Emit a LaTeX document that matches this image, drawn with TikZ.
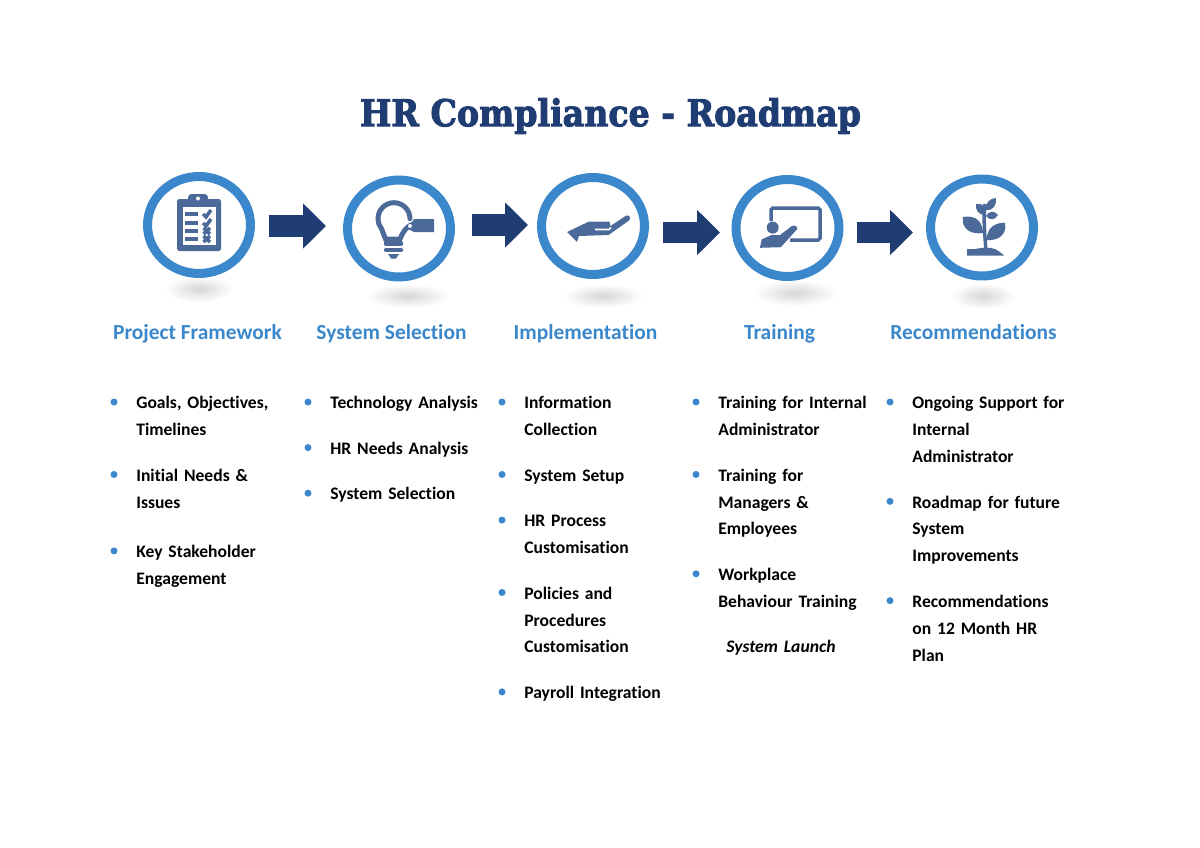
\documentclass[tikz,border=0pt]{standalone}
\usepackage{fontspec}
\setmainfont[Ligatures=NoCommon,Contextuals=NoAlternate]{Carlito}
\newfontfamily\titlefont[FakeStretch=0.9,FakeBold=2.6]{DejaVu Serif}
\usetikzlibrary{arrows.meta,positioning,shapes.geometric}
\definecolor{hrnavy}{HTML}{1F3D73}
\definecolor{hrblue}{HTML}{3A87CB}
\definecolor{hricon}{HTML}{4C6A99}

\begin{document}
\begin{tikzpicture}[
    x=0.02cm, y=-0.02cm,
    every node/.style={inner sep=0pt},
    ring/.style={draw=hrblue, fill=white, ellipse, line width=0.18cm, minimum width=2.06cm, minimum height=1.94cm},
    bigarrow/.style={line width=0.44cm, draw=hrnavy, -{Triangle[length=0.46cm, width=0.88cm]}},
    heading/.style={anchor=base, text=hrblue, font=\fontsize{12.2}{15}\selectfont\bfseries},
    listitem/.style={text width=3.4cm, align=left, anchor=north west, font=\fontsize{10}{15.3}\selectfont\bfseries,
      execute at begin node=\strut, execute at end node=\strut},
    nextitem/.style={listitem, below=0.36cm of #1.south west, anchor=north west},
    hrdot/.style={circle, fill=hrblue, minimum size=0.14cm}
  ]
    \useasboundingbox (0,0) rectangle (1200,848);

    \node[text=hrnavy, font=\fontsize{21}{25}\titlefont\bfseries] (title) at (610.5,116) {HR Compliance - Roadmap};

    % soft shadows under the rings
    \foreach \x/\y/\rx/\ry in {199/289/34/13, 408/296/42/12, 603/296/40/12, 795/293/42/13, 983/296/32/13}
      \shade[inner color=black!16, outer color=white] (\x,\y) ellipse [x radius=\rx, y radius=\ry];

    \node[ring] (frame) at (199,225) {};
    \node[ring] (select) at (399,228.5) {};
    \node[ring] (impl) at (593,226) {};
    \node[ring] (train) at (787.5,228) {};
    \node[ring] (recom) at (982,227.5) {};

    \coordinate (a1s) at (269,226);
    \coordinate (a1e) at (326,226);
    \coordinate (a2s) at (472,225);
    \coordinate (a2e) at (528,225);
    \coordinate (a3s) at (663,232.5);
    \coordinate (a3e) at (720,232.5);
    \coordinate (a4s) at (857,232.5);
    \coordinate (a4e) at (913,232.5);
    \draw[bigarrow] (a1s) -- (a1e);
    \draw[bigarrow] (a2s) -- (a2e);
    \draw[bigarrow] (a3s) -- (a3e);
    \draw[bigarrow] (a4s) -- (a4e);

    % clipboard
    \fill[hricon, rounded corners=1pt] (177,199) rectangle (221,251);
    \fill[hricon, rounded corners=2pt] (188,194) rectangle (208,208);
    \fill[white] (183,207) rectangle (216,245);
    \fill[white] (198,198.5) circle (2);
    \foreach \y in {214,223,231,239}
      \draw[hricon, line width=0.07cm] (185,\y) -- (198,\y);
    \foreach \y in {214,223}
      \draw[hricon, line width=0.07cm] (203,\y) -- (206,\y+3) -- (211,\y-4);
    \foreach \y in {231,239}
      \draw[hricon, line width=0.07cm] (203.5,\y-3) -- (210,\y+3) (203.5,\y+3) -- (210,\y-3);

    % bulb
    \draw[hricon, line width=0.1cm, line cap=round] (410,218.7) arc[start angle=0, end angle=-218, radius=16]
      -- (385.5,239) -- (400,239) .. controls (403,232) and (406,226) .. (414,224);
    \fill[hricon] (414,219) -- (434,219) -- (434,232) -- (414,232) -- (408,229) -- cycle;
    \fill[white] (410,226) circle (2);
    \draw[hricon, line width=0.09cm, line cap=round] (386,243.5) -- (401,243.5) (386,250) -- (401,250);
    \fill[hricon] (388,254) -- (399,254) -- (396,258.5) -- (391,258.5) -- cycle;

    % hand
    \fill[hricon] (567,232) -- (589,221.5) -- (609.5,221.5) -- (610.5,226) -- (626,215.7)
      .. controls (630,214) and (631,219) .. (629,220.5) -- (608.5,235) -- (579,236) -- (577,241.8) -- cycle;
    \draw[white, line width=0.035cm] (595,229.5) -- (609,229.5) -- (611,227.5);

    % teacher at a board
    \draw[hricon, line width=0.07cm, rounded corners=1pt] (771,221) -- (771,208) -- (820,208) -- (820,240) -- (790,240);
    \fill[hricon] (772.7,227.6) circle (6);
    \fill[hricon] (760,247.8) -- (761.6,239.4) -- (771.7,235) -- (780,235) -- (792,225.9)
      .. controls (795,224.5) and (798,227) .. (797,229.3) -- (780.8,247.2) -- cycle;

    % plant
    \draw[hricon, line width=0.07cm] (986,252) .. controls (985,235) and (983,220) .. (985,204);
    \fill[hricon] (967,249) .. controls (977,250) and (980,247) .. (986,248)
      .. controls (992,247) and (997,249) .. (1004,255.5) -- (967,255.5) -- cycle;
    \fill[hricon] (963,217) .. controls (970,216) and (982,216) .. (983,233)
      .. controls (970,235) and (961,228) .. (963,217) -- cycle;
    \fill[hricon] (1005,223) .. controls (997,222) and (986,227) .. (987,240)
      .. controls (999,241) and (1007,234) .. (1005,223) -- cycle;
    \fill[hricon] (976,204) .. controls (982,202) and (986,207) .. (984.5,215)
      .. controls (979,215) and (975,210) .. (976,204) -- cycle;
    \fill[hricon] (996,198) .. controls (990,198) and (985,203) .. (986,210)
      .. controls (993,211) and (997,205) .. (996,198) -- cycle;
    \fill[hricon] (998,215) .. controls (994,210) and (989,211) .. (986,216)
      .. controls (990,221) and (995,220) .. (998,215) -- cycle;

    \node[heading] (h1) at (197.5,339) {Project Framework};
    \node[heading] (h2) at (391.5,339) {System Selection};
    \node[heading] (h3) at (585.5,339) {Implementation};
    \node[heading] (h4) at (779.5,339) {Training};
    \node[heading] (h5) at (973.5,339) {Recommendations};

    \node[listitem] (goals) at (136,389.5) {Goals, Objectives,\\Timelines};
    \node[nextitem=goals] (needs) {Initial Needs \&\\Issues};
    \node[nextitem=needs, yshift=-0.08cm] (stake) {Key Stakeholder\\Engagement};

    \node[listitem] (tech) at (330,389.5) {Technology Analysis};
    \node[nextitem=tech] (hrneeds) {HR Needs Analysis};
    \node[nextitem=hrneeds] (syssel) {System Selection};

    \node[listitem] (info) at (524,389.5) {Information\\Collection};
    \node[nextitem=info] (setup) {System Setup};
    \node[nextitem=setup] (process) {HR Process\\Customisation};
    \node[nextitem=process] (policy) {Policies and\\Procedures\\Customisation};
    \node[nextitem=policy] (payroll) {Payroll Integration};

    \node[listitem] (admin) at (718,389.5) {Training for Internal\\Administrator};
    \node[nextitem=admin] (mgr) {Training for\\Managers \&\\Employees};
    \node[nextitem=mgr] (behav) {Workplace\\Behaviour Training};
    \node[listitem, font=\fontsize{10}{15.3}\selectfont\bfseries\itshape] (launch) at (726,633) {System Launch};

    \node[listitem] (support) at (912,389.5) {Ongoing Support for\\Internal\\Administrator};
    \node[nextitem=support] (future) {Roadmap for future\\System\\Improvements};
    \node[nextitem=future] (plan) {Recommendations\\on 12 Month HR\\Plan};

    \foreach \n in {goals,needs,stake,tech,hrneeds,syssel,info,setup,process,policy,payroll,admin,mgr,behav,support,future,plan}
      \node[hrdot] (\n dot) at ([shift={(-22,12.5)}]\n.north west) {};
  \end{tikzpicture}
\end{document}
